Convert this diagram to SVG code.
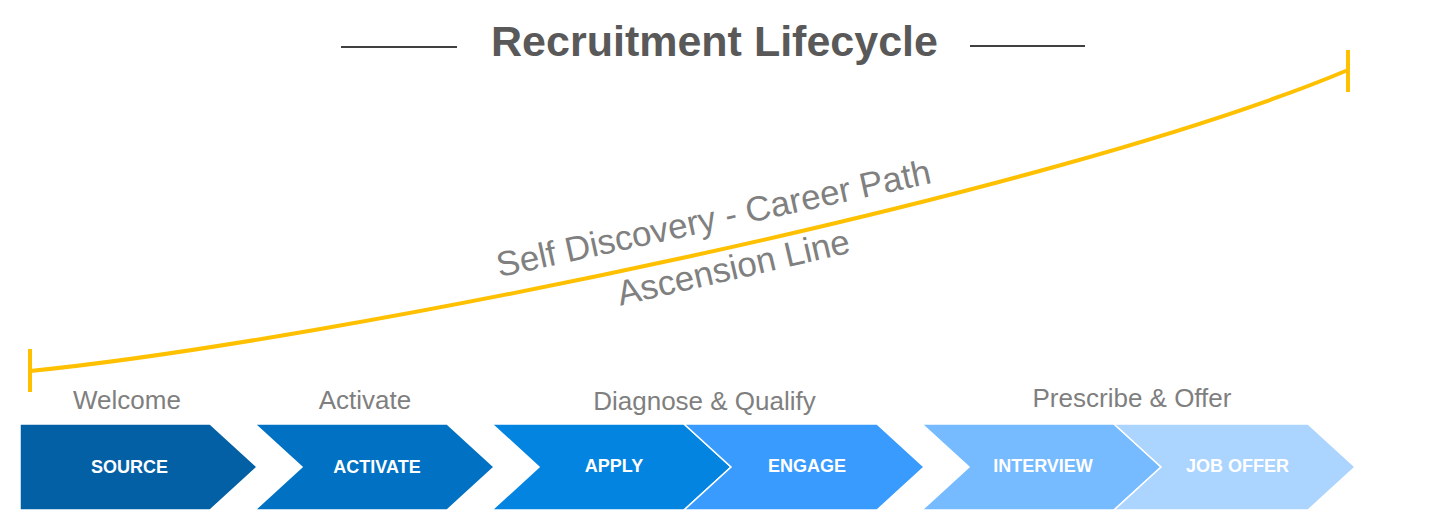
<svg xmlns="http://www.w3.org/2000/svg" width="1430" height="516" viewBox="0 0 1430 516">
<style>
.title{font-family:"Liberation Sans",Arial,sans-serif;font-weight:bold;font-size:43px;fill:#595959}
.rule{stroke:#404040;stroke-width:2}
.stage{font-family:"Liberation Sans",Arial,sans-serif;font-size:26px;fill:#7f7f7f}
.asc{font-family:"Liberation Sans",Arial,sans-serif;font-size:35px;fill:#808080}
.chev{stroke:#ffffff;stroke-width:1.5}
.clabel{font-family:"Liberation Sans",Arial,sans-serif;font-weight:bold;font-size:18px;fill:#ffffff;text-anchor:middle}
.yel{fill:none;stroke:#FFC000;stroke-width:4}
</style>
<rect width="1430" height="516" fill="#ffffff"/>
<g id="title">
<line class="rule" x1="341" y1="47" x2="457" y2="47"/>
<text class="title" x="714.5" y="56" text-anchor="middle">Recruitment Lifecycle</text>
<line class="rule" x1="970" y1="46" x2="1085" y2="46"/>
</g>
<g id="ascension">
<path class="yel" d="M30,371 C330,341 1048,196 1348,70"/>
<line class="yel" x1="30" y1="349" x2="30" y2="392"/>
<line class="yel" x1="1348" y1="50" x2="1348" y2="92"/>
<text class="asc" text-anchor="middle" transform="translate(716,230) rotate(-12.3)">Self Discovery - Career Path</text>
<text class="asc" text-anchor="middle" transform="translate(736,279) rotate(-13)">Ascension Line</text>
</g>
<g id="stage-labels">
<text class="stage" x="127" y="409" text-anchor="middle">Welcome</text>
<text class="stage" x="365" y="409" text-anchor="middle">Activate</text>
<text class="stage" x="704.5" y="410" text-anchor="middle">Diagnose &amp; Qualify</text>
<text class="stage" x="1132" y="407" text-anchor="middle">Prescribe &amp; Offer</text>
</g>
<g id="source">
<polygon class="chev" fill="#0360A5" points="20,424 210,424 257,467 210,510 20,510"/>
<text class="clabel" x="129.5" y="473">SOURCE</text>
</g>
<g id="activate">
<polygon class="chev" fill="#0071C3" points="255,424 447,424 494,467 447,510 255,510 302,467"/>
<text class="clabel" x="377" y="473">ACTIVATE</text>
</g>
<g id="apply">
<polygon class="chev" fill="#0284E0" points="492,424 684,424 731,467 684,510 492,510 539,467"/>
<text class="clabel" x="614" y="472">APPLY</text>
</g>
<g id="engage">
<polygon class="chev" fill="#3A9BFF" points="684,424 877,424 924,467 877,510 684,510 731,467"/>
<text class="clabel" x="807" y="472">ENGAGE</text>
</g>
<g id="interview">
<polygon class="chev" fill="#76BAFF" points="922,424 1114,424 1161,467 1114,510 922,510 969,467"/>
<text class="clabel" x="1043" y="472">INTERVIEW</text>
</g>
<g id="job-offer">
<polygon class="chev" fill="#ABD4FF" points="1114,424 1308,424 1355,467 1308,510 1114,510 1161,467"/>
<text class="clabel" x="1237.5" y="472">JOB OFFER</text>
</g>
</svg>
